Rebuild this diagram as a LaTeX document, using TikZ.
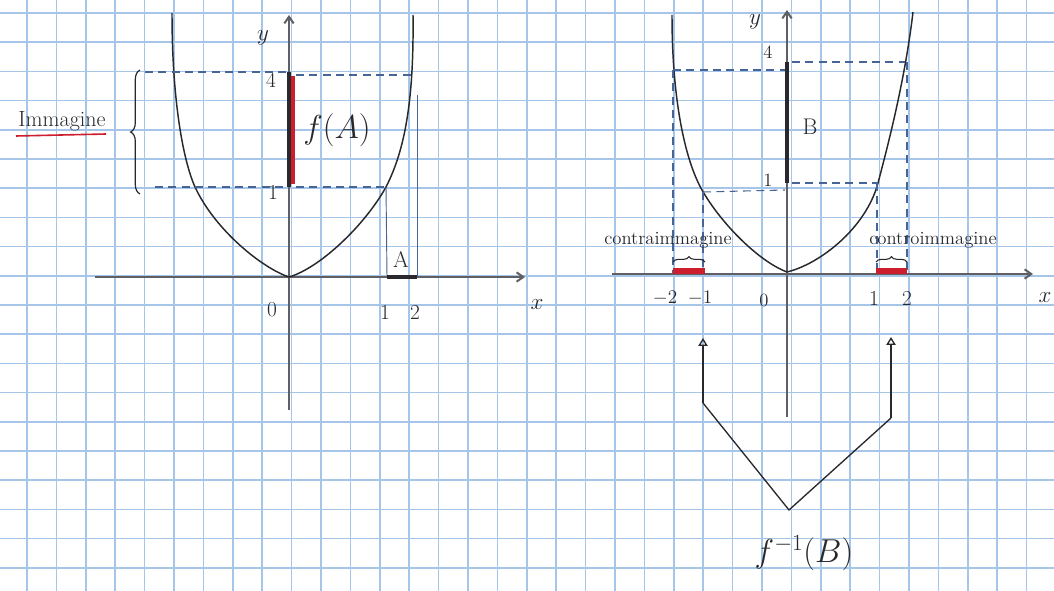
\documentclass[tikz,border=0pt]{standalone}
\usetikzlibrary{arrows.meta,decorations.pathreplacing}
\definecolor{gridblue}{RGB}{165,198,232}
\definecolor{pen}{RGB}{40,40,45}
\definecolor{axisgray}{RGB}{95,95,100}
\definecolor{dashblue}{RGB}{70,100,150}
\definecolor{redpen}{RGB}{205,30,45}
\tikzset{
  gridline/.style={gridblue, line width=1.3pt},
  axisline/.style={axisgray, line width=1.5pt, -{Straight Barb[length=5pt,width=7pt]}},
  curveline/.style={pen, line width=1.1pt},
  guide/.style={dashblue, line width=0.8pt, dash pattern=on 6pt off 4pt},
  guidesolid/.style={dashblue, line width=0.7pt},
  thickseg/.style={pen, line width=3pt},
  redseg/.style={redpen, line width=3pt},
  lbl/.style={inner sep=0pt, text=pen, font=\fontsize{17}{17}\selectfont},
  num/.style={inner sep=0pt, text=pen, font=\fontsize{16}{16}\selectfont},
  small/.style={inner sep=0pt, text=pen, font=\fontsize{14}{14}\selectfont},
  big/.style={inner sep=0pt, text=pen, font=\fontsize{23}{23}\selectfont},
  arrowline/.style={pen, line width=1pt},
  smallbrace/.style={pen, line width=0.8pt, decorate, decoration={brace, amplitude=4pt}}
}
\begin{document}
\begin{tikzpicture}[x=0.75pt, y=-0.75pt]
\useasboundingbox (0,0) rectangle (1054,591);
\fill[white] (0,0) rectangle (1054,591);
% grid paper
\foreach \k in {-1,...,35} {\draw[gridline] ({27+29.4*\k},0) -- ({27+29.4*\k},591);}
\foreach \k in {0,...,20} {\draw[gridline] (0,{13+29.2*\k}) -- (1054,{13+29.2*\k});}

% ================= LEFT PLOT =================
\coordinate (Ly0) at (289,410);
\coordinate (Ly1) at (289,15);
\coordinate (Lx0) at (95,277);
\coordinate (Lx1) at (525,277);
\draw[axisline] (Lx0) -- (Lx1);
\draw[axisline] (Ly0) -- (Ly1);
\coordinate (LV) at (289,277);
\draw[curveline] (LV) .. controls (262,268) and (215,230) .. (195,187)
                      .. controls (183,160) and (172,100) .. (172,13);
\draw[curveline] (LV) .. controls (320,268) and (365,225) .. (386,187)
                      .. controls (405,150) and (414,100) .. (413,15);
% guides
\coordinate (L4a) at (145,72);  \coordinate (L4b) at (287,72);
\coordinate (L4c) at (296,75);  \coordinate (L4d) at (412,75);
\coordinate (L1a) at (155,187); \coordinate (L1b) at (287,187);
\coordinate (L1c) at (296,187); \coordinate (L1d) at (386,187);
\coordinate (LA1) at (387,277); \coordinate (LA2) at (417,277);
\coordinate (LA2t) at (417,95);
\draw[guide] (L4a) -- (L4b);
\draw[guide] (L4c) -- (L4d);
\draw[guide] (L1a) -- (L1b);
\draw[guide] (L1c) -- (L1d);
\draw[guidesolid] (L1d) -- (LA1);
\draw[guidesolid] (LA2t) -- (LA2);
\draw[thickseg] (LA1) -- (LA2);
% image segment
\coordinate (Lf1) at (289,72); \coordinate (Lf2) at (289,187);
\coordinate (Lr1) at (293,76); \coordinate (Lr2) at (293,184);
\draw[thickseg] (Lf1) -- (Lf2);
\draw[redseg] (Lr1) -- (Lr2);
% labels
\node[lbl] (Lylab) at (263,38) {$y$};
\node[num] (L4) at (271,80) {4};
\node[num] (L1) at (273,192) {1};
\node[num] (L0) at (272,310) {0};
\node[num] (Lt1) at (385,312) {1};
\node[num] (Lt2) at (415,312) {2};
\node[lbl] (Lxlab) at (537,305) {$x$};
\node[lbl] (Alab) at (401,259) {A};
\node[big] (fA) at (337,130) {$f(A)$};
% brace + Immagine
\coordinate (Bb) at (140,194); \coordinate (Bt) at (140,70);
\draw[pen, line width=0.9pt, decorate, decoration={brace, amplitude=7pt}] (Bb) -- (Bt);
\node[font=\fontsize{16.5}{16.5}\selectfont, text=pen, inner sep=0pt] (imm) at (62,121) {Immagine};
\coordinate (U1) at (16,136); \coordinate (U2) at (106,134);
\draw[redpen, line width=1.2pt] (U1) -- (U2);

% ================= RIGHT PLOT =================
\coordinate (Ry0) at (787,417);
\coordinate (Ry1) at (787,10);
\coordinate (Rx0) at (612,274);
\coordinate (Rx1) at (1033,274);
\draw[axisline] (Rx0) -- (Rx1);
\draw[axisline] (Ry0) -- (Ry1);
\coordinate (RV) at (787,272);
\draw[curveline] (RV) .. controls (760,262) and (722,225) .. (702,190)
                      .. controls (685,160) and (672,100) .. (672,15);
\draw[curveline] (RV) .. controls (820,264) and (866,228) .. (878,183)
                      .. controls (888,145) and (905,80) .. (913,12);
% guides
\coordinate (R4a) at (673,70);  \coordinate (R4b) at (785,70);
\coordinate (R4c) at (792,62);  \coordinate (R4d) at (905,62);
\coordinate (R1a) at (703,192); \coordinate (R1b) at (785,190);
\coordinate (R1c) at (792,183); \coordinate (R1d) at (877,183);
\coordinate (Rv1) at (673,273); \coordinate (Rv2) at (703,273);
\coordinate (Rv3) at (877,273); \coordinate (Rv4) at (907,273);
\coordinate (R4e) at (907,62);
\draw[guide] (R4a) -- (R4b);
\draw[guide] (R4c) -- (R4d);
\draw[guide] (R1a) -- (R1b);
\draw[guide] (R1c) -- (R1d);
\draw[guide] (R4a) -- (Rv1);
\draw[guide] (R1a) -- (Rv2);
\draw[guide] (R1d) -- (Rv3);
\draw[guide] (R4e) -- (Rv4);
\coordinate (Rs1) at (673,271); \coordinate (Rs2) at (705,271);
\coordinate (Rs3) at (876,271); \coordinate (Rs4) at (907,271);
\draw[redseg, line width=4pt] (Rs1) -- (Rs2);
\draw[redseg, line width=4pt] (Rs3) -- (Rs4);
% B segment
\coordinate (RB1) at (787,62); \coordinate (RB2) at (787,183);
\draw[thickseg] (RB1) -- (RB2);
% small braces
\coordinate (sb1) at (673,262); \coordinate (sb2) at (705,262);
\coordinate (sb3) at (876,262); \coordinate (sb4) at (907,262);
\draw[smallbrace] (sb1) -- (sb2);
\draw[smallbrace] (sb3) -- (sb4);
% labels
\node[lbl] (Rylab) at (755,22) {$y$};
\node[small] (R4) at (768,52) {4};
\node[small] (R1) at (768,180) {1};
\node[lbl] (Blab) at (810,127) {B};
\node[small] (Rm2) at (665,298) {$-2$};
\node[small] (Rm1) at (700,298) {$-1$};
\node[small] (R0) at (764,300) {0};
\node[num] (Rt1) at (874,298) {1};
\node[num] (Rt2) at (907,298) {2};
\node[lbl] (Rxlab) at (1045,298) {$x$};
\node[small] (ci1) at (668,240) {contraimmagine};
\node[small] (ci2) at (933,240) {controimmagine};
% preimage arrows
\coordinate (aL0) at (703,403); \coordinate (aL1) at (703,338);
\coordinate (aR0) at (891,418); \coordinate (aR1) at (891,337);
\coordinate (fork) at (789,510);
\draw[arrowline, -{Triangle[open, length=6pt, width=7pt]}] (aL0) -- (aL1);
\draw[arrowline, -{Triangle[open, length=6pt, width=7pt]}] (aR0) -- (aR1);
\draw[arrowline] (aL0) -- (fork) -- (aR0);
\node[big] (fB) at (804,553) {$f^{-1}(B)$};
\end{tikzpicture}
\end{document}
